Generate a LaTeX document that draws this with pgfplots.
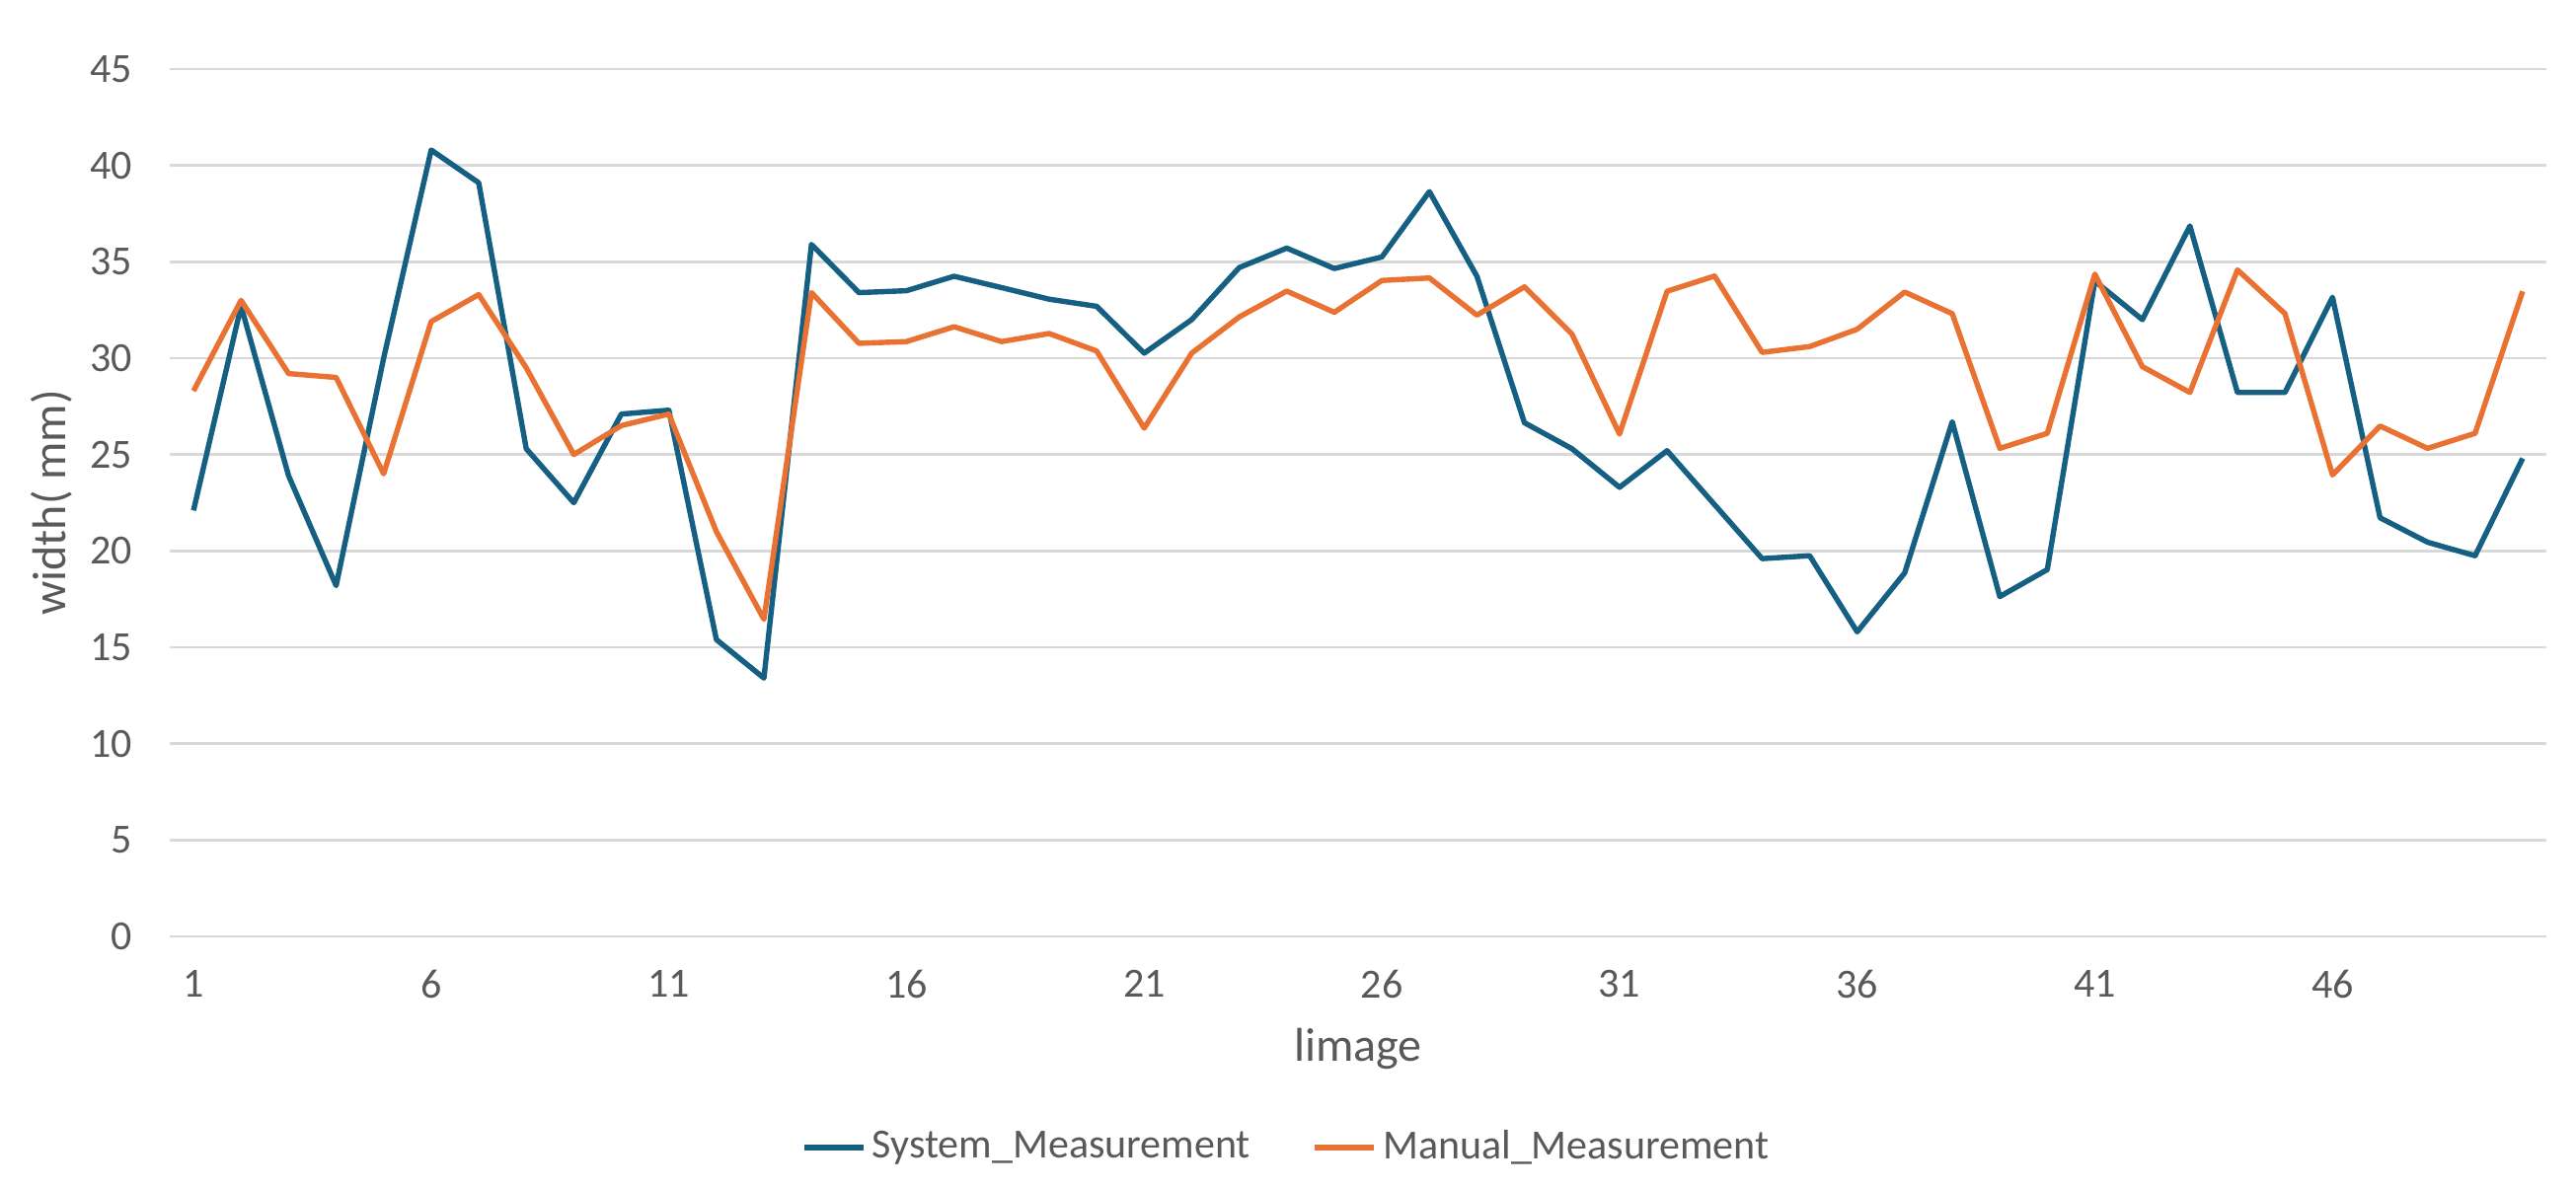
\documentclass[border=0pt]{standalone}
\usepackage{pgfplots}
\pgfplotsset{compat=1.18}
\usepackage{pgfplotstable}
\usepackage{fontspec}
\setmainfont{Carlito}

\definecolor{sysblue}{HTML}{156082}
\definecolor{manorange}{HTML}{E97132}
\definecolor{txtgray}{HTML}{595959}
\definecolor{gridgray}{HTML}{D9D9D9}

% image no, system width, manual width
\pgfplotstableread{
n  sys    man
1  22.1   28.3
2  32.7   33.0
3  23.9   29.2
4  18.2   29.0
5  30.0   24.0
6  40.8   31.9
7  39.1   33.3
8  25.3   29.5
9  22.5   25.0
10 27.1   26.5
11 27.3   27.1
12 15.4   21.0
13 13.4   16.45
14 35.9   33.4
15 33.4   30.77
16 33.5   30.86
17 34.25  31.63
18 33.66  30.86
19 33.06  31.28
20 32.69  30.37
21 30.26  26.37
22 32.0   30.26
23 34.7   32.14
24 35.71  33.48
25 34.65  32.38
26 35.25  34.03
27 38.64  34.16
28 34.25  32.23
29 26.65  33.7
30 25.3   31.25
31 23.3   26.06
32 25.2   33.47
33 22.4   34.26
34 19.6   30.3
35 19.75  30.6
36 15.8   31.5
37 18.86  33.43
38 26.7   32.31
39 17.63  25.32
40 19.03  26.1
41 34.0   34.36
42 32.0   29.56
43 36.86  28.22
44 28.22  34.58
45 28.22  32.31
46 33.16  23.94
47 21.72  26.48
48 20.45  25.32
49 19.75  26.1
50 24.8   33.47
}\widths

\begin{document}
\begin{tikzpicture}
\begin{axis}[
  scale only axis,
  width=602pt, height=219.75pt,
  xmin=0.5, xmax=50.5,
  ymin=0, ymax=45,
  xtick={1,6,...,46},
  ytick={0,5,...,45},
  ymajorgrids,
  grid style={draw=gridgray, line width=0.6pt},
  axis line style={draw=none},
  major tick length=0pt,
  tick label style={font=\fontsize{10.5}{12}\selectfont, text=txtgray},
  /pgf/number format/assume math mode=true,
  yticklabel style={xshift=-6pt},
  xticklabel style={yshift=-5pt},
  xlabel={limage},
  ylabel={width( mm)},
  label style={font=\fontsize{12}{14}\selectfont, text=txtgray},
  x label style={at={(axis description cs:0.5,-0.1297)}, anchor=center},
  y label style={at={(axis description cs:-0.0498,0.5)}, anchor=center},
  legend columns=2,
  legend style={at={(axis description cs:0.4705,-0.2435)}, anchor=center,
    draw=none, fill=none, font=\fontsize{10.5}{12}\selectfont, text=txtgray,
    /tikz/every even column/.append style={column sep=14pt},
    nodes={inner sep=1.5pt}},
  legend image code/.code={\draw[#1, line width=1.6pt] (0pt,0pt) -- (15pt,0pt);},
  every axis plot/.append style={line width=1.35pt, line join=round, no markers},
]
\addplot[sysblue] table[x=n, y=sys] {\widths};
\addlegendentry{System\_Measurement}
\addplot[manorange] table[x=n, y=man] {\widths};
\addlegendentry{Manual\_Measurement}
\end{axis}
\path (-43pt,-64pt) rectangle (609.5pt,237.25pt);
\end{tikzpicture}
\end{document}
